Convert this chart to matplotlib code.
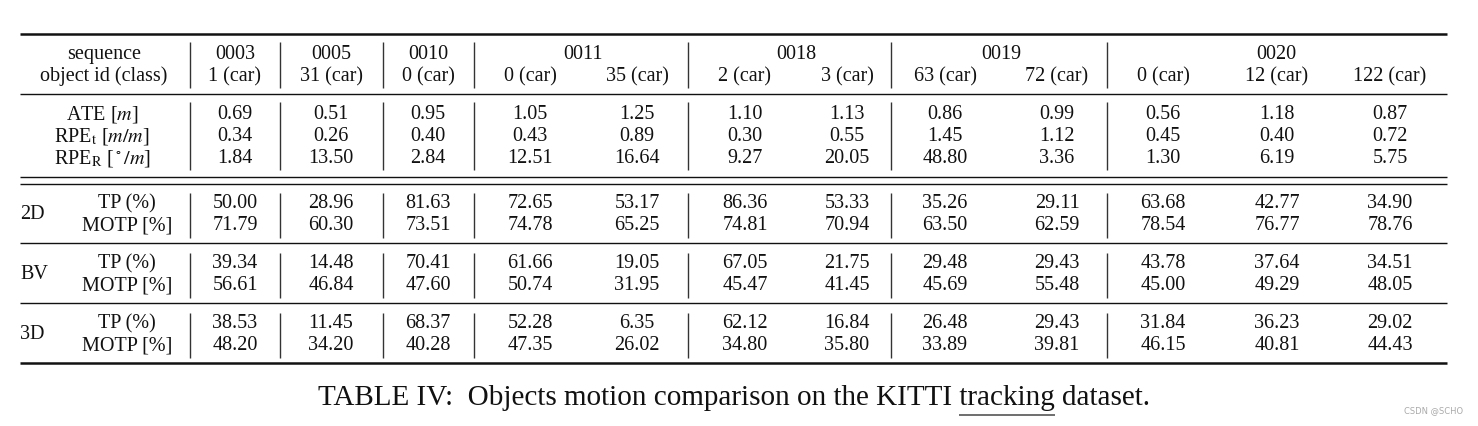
import matplotlib.pyplot as plt

plt.rcParams['font.family'] = ['Liberation Serif', 'DejaVu Serif']
plt.rcParams['mathtext.fontset'] = 'stix'

# Table contents
sequences = ['0003', '0005', '0010', '0011', '0018', '0019', '0020']
seq_span = [1, 1, 1, 2, 2, 2, 3]
object_ids = ['1 (car)', '31 (car)', '0 (car)', '0 (car)', '35 (car)', '2 (car)', '3 (car)',
              '63 (car)', '72 (car)', '0 (car)', '12 (car)', '122 (car)']

ate = [0.69, 0.51, 0.95, 1.05, 1.25, 1.10, 1.13, 0.86, 0.99, 0.56, 1.18, 0.87]
rpe_t = [0.34, 0.26, 0.40, 0.43, 0.89, 0.30, 0.55, 1.45, 1.12, 0.45, 0.40, 0.72]
rpe_r = [1.84, 13.50, 2.84, 12.51, 16.64, 9.27, 20.05, 48.80, 3.36, 1.30, 6.19, 5.75]

tp_2d = [50.00, 28.96, 81.63, 72.65, 53.17, 86.36, 53.33, 35.26, 29.11, 63.68, 42.77, 34.90]
motp_2d = [71.79, 60.30, 73.51, 74.78, 65.25, 74.81, 70.94, 63.50, 62.59, 78.54, 76.77, 78.76]
tp_bv = [39.34, 14.48, 70.41, 61.66, 19.05, 67.05, 21.75, 29.48, 29.43, 43.78, 37.64, 34.51]
motp_bv = [56.61, 46.84, 47.60, 50.74, 31.95, 45.47, 41.45, 45.69, 55.48, 45.00, 49.29, 48.05]
tp_3d = [38.53, 11.45, 68.37, 52.28, 6.35, 62.12, 16.84, 26.48, 29.43, 31.84, 36.23, 29.02]
motp_3d = [48.20, 34.20, 40.28, 47.35, 26.02, 34.80, 35.80, 33.89, 39.81, 46.15, 40.81, 44.43]

metric_labels = ['ATE [$m$]', 'RPE$_\\mathrm{t}$ [$m/m$]', 'RPE$_\\mathrm{R}$ [$^\\circ/m$]']
groups = ['2D', 'BV', '3D']
group_rows = [(tp_2d, motp_2d), (tp_bv, motp_bv), (tp_3d, motp_3d)]

caption = 'TABLE IV:  Objects motion comparison on the KITTI tracking dataset.'

# layout (pixels)
W, H = 1478, 426
col_x = [235, 331, 428, 530, 637, 745, 847, 945, 1057, 1163, 1277, 1390]
sep_x = [190, 280, 383, 474, 688, 891, 1107]
x0, x1 = 20, 1447
fs = 14.5
cap_fs = 21
ink = '#111111'
dy = 1.5  # small downward nudge of the text rows

fig = plt.figure(figsize=(W / 100, H / 100), dpi=100)
ax = fig.add_axes([0, 0, 1, 1])
ax.set_xlim(0, W)
ax.set_ylim(H, 0)
ax.axis('off')


def txt(x, y, s, **kw):
    kw.setdefault('ha', 'center')
    ax.text(x, y + dy, s, va='center', fontsize=fs, color=ink, **kw)


# horizontal rules
ax.hlines(34, x0, x1, color=ink, lw=1.8)
ax.hlines(94, x0, x1, color=ink, lw=1.0)
ax.hlines([177, 184], x0, x1, color=ink, lw=1.0)
ax.hlines([243, 303], x0, x1, color=ink, lw=1.0)
ax.hlines(363, x0, x1, color=ink, lw=1.8)

# vertical separators for each block
for top, bot in [(42, 88), (102, 170), (193, 238), (253, 298), (313, 358)]:
    ax.vlines(sep_x, top, bot, color='#333333', lw=1.0)

# header
txt(104, 53, 'sequence')
txt(104, 75, 'object id (class)')
i = 0
for seq, span in zip(sequences, seq_span):
    xs = col_x[i:i + span]
    txt(sum(xs) / len(xs), 53, seq)
    i += span
for x, oid in zip(col_x, object_ids):
    txt(x, 75, oid)

# trajectory errors
for row_y, label, vals in zip([113, 135, 157], metric_labels, [ate, rpe_t, rpe_r]):
    txt(102, row_y, label)
    for x, v in zip(col_x, vals):
        txt(x, row_y, f'{v:.2f}')

# tracking metrics
for k, (g, (tp, motp)) in enumerate(zip(groups, group_rows)):
    y_tp = 202 + 60 * k
    y_motp = y_tp + 22
    txt(20, (y_tp + y_motp) / 2, g, ha='left')
    txt(127, y_tp, 'TP (%)')
    txt(127, y_motp, 'MOTP [%]')
    for x, a, b in zip(col_x, tp, motp):
        txt(x, y_tp, f'{a:.2f}')
        txt(x, y_motp, f'{b:.2f}')

# caption with underlined word
cap = ax.text(734, 398, caption, ha='center', va='center', fontsize=cap_fs, color=ink)
fig.canvas.draw()
r = fig.canvas.get_renderer()
bb = cap.get_window_extent(r)
pre = ax.text(0, 0, 'TABLE IV:  Objects motion comparison on the KITTI ', fontsize=cap_fs)
word = ax.text(0, 0, 'tracking', fontsize=cap_fs)
w_pre = pre.get_window_extent(r).width
w_word = word.get_window_extent(r).width
pre.remove()
word.remove()
ax.hlines(415, bb.x0 + w_pre, bb.x0 + w_pre + w_word, color='#555555', lw=1.2)

ax.text(1463, 411, 'CSDN @SCHO', ha='right', va='center', fontsize=6, color='#aaaaaa',
        family='DejaVu Sans')

fig.savefig('out.png', dpi=100)
